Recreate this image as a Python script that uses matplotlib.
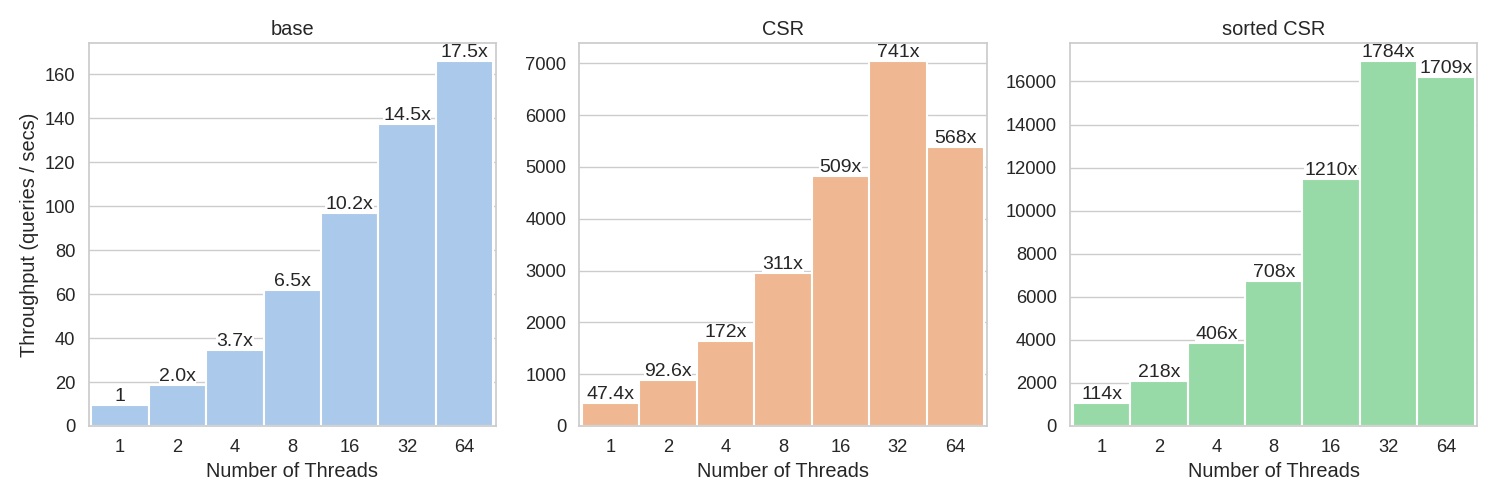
import matplotlib
matplotlib.use("Agg")
import matplotlib.pyplot as plt
import seaborn as sns

sns.set_theme(style="whitegrid")
plt.rcParams["font.family"] = ["Liberation Sans", "DejaVu Sans"]

THREADS = ["1", "2", "4", "8", "16", "32", "64"]

BASE_TPUT = [9.5, 18.7, 34.8, 61.7, 97.0, 137.6, 166.0]
BASE_LABELS = ["1", "2.0x", "3.7x", "6.5x", "10.2x", "14.5x", "17.5x"]

CSR_TPUT = [450, 880, 1640, 2950, 4830, 7040, 5390]
CSR_LABELS = ["47.4x", "92.6x", "172x", "311x", "509x", "741x", "568x"]

SORTED_TPUT = [1085, 2070, 3860, 6730, 11490, 16940, 16230]
SORTED_LABELS = ["114x", "218x", "406x", "708x", "1210x", "1784x", "1709x"]

TITLES = ["base", "CSR", "sorted CSR"]

pal = sns.color_palette("pastel")
colors = [sns.desaturate(pal[i], 0.75) for i in range(3)]

fig, axes = plt.subplots(1, 3, figsize=(15, 5), dpi=100)
fig.subplots_adjust(left=0.059, right=0.985, top=0.914, bottom=0.148, wspace=0.204)

panels = [
    (BASE_TPUT, BASE_LABELS),
    (CSR_TPUT, CSR_LABELS),
    (SORTED_TPUT, SORTED_LABELS),
]

for i, (ax, (vals, labels)) in enumerate(zip(axes, panels)):
    xs = range(len(THREADS))
    ax.bar(xs, vals, width=1.0, color=colors[i], edgecolor="white", linewidth=1.5, zorder=2)
    for x, v, lab in zip(xs, vals, labels):
        ax.text(x, v, lab, ha="center", va="bottom", fontsize=14, color="#262626",
                bbox=dict(facecolor="white", edgecolor="none", pad=0.3), zorder=3)
    ax.set_xticks(list(xs))
    ax.set_xticklabels(THREADS)
    ax.set_xlim(-0.55, 6.55)
    ax.xaxis.grid(False)
    ax.set_axisbelow(True)
    ax.set_title(TITLES[i], fontsize=14.4)
    ax.set_xlabel("Number of Threads", fontsize=14.4)
    ax.tick_params(labelsize=13.2)
    for s in ax.spines.values():
        s.set_color("#cccccc")

axes[0].set_ylabel("Throughput (queries / secs)", fontsize=14.4)

fig.savefig("out.png", dpi=100)
